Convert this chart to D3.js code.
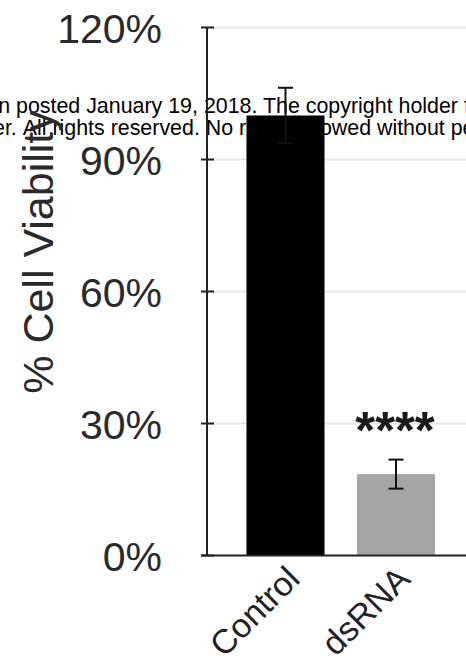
<!DOCTYPE html>
<html>
<head>
<meta charset="utf-8">
<script src="https://cdn.jsdelivr.net/npm/d3@7"></script>
<style>
  html, body { margin: 0; padding: 0; background: #fff; }
  svg { display: block; }
  text { font-family: "Liberation Sans", Arial, Helvetica, sans-serif; }
</style>
</head>
<body>
<svg id="chart" width="466" height="665"></svg>
<script>
// Cell viability after treatment
const categories = ["Control", "dsRNA"];
const viability = [1.00, 0.185];      // mean fraction viable
const viabilityErr = [0.063, 0.033];  // error bar half-length
const barColors = ["#000000", "#a6a6a6"];
const yTicks = [0, 0.3, 0.6, 0.9, 1.2];
const significance = ["", "****"];
const yTitle = "% Cell Viability";

const svg = d3.select("#chart");
const W = 466, H = 665;

// Preprint notice running behind the plot
const notice = svg.append("g").attr("class", "notice").attr("font-size", 21.4).attr("fill", "#000");
const noticeLines = [
  { pre: "this version", post: "posted January 19, 2018. The copyright holder for this preprint", x: 16, y: 113 },
  { pre: "is the author/funder.", post: "All rights reserved. No reuse allowed without permission.", x: 22.7, y: 134.5 }
];
noticeLines.forEach(l => {
  notice.append("text").attr("x", l.x - 5.9).attr("y", l.y).attr("text-anchor", "end").text(l.pre);
  notice.append("text").attr("x", l.x).attr("y", l.y).text(l.post);
});

const axisX = 207;
const y = d3.scaleLinear().domain([0, 1.2]).range([555.5, 27.5]);
const x = d3.scaleBand().domain(categories).range([230.25, 451.25])
  .paddingInner(0.294).paddingOuter(0.147);

// gridlines
svg.append("g").selectAll("line").data(yTicks.filter(d => d > 0)).join("line")
  .attr("x1", axisX).attr("x2", W)
  .attr("y1", d => y(d)).attr("y2", d => y(d))
  .attr("stroke", "#e6e6e6").attr("stroke-width", 2);

// significance marker
svg.append("g").selectAll("text").data(categories).join("text")
  .attr("x", d => x(d) + x.bandwidth() / 2 - 1)
  .attr("y", (d, i) => y(0.3) + 24)
  .attr("text-anchor", "middle")
  .attr("font-size", 51)
  .attr("font-weight", "bold")
  .attr("fill", "#1a1a1a")
  .text((d, i) => significance[i]);

// bars
svg.append("g").selectAll("rect").data(categories).join("rect")
  .attr("x", d => x(d))
  .attr("width", x.bandwidth())
  .attr("y", (d, i) => y(viability[i]))
  .attr("height", (d, i) => y(0) - y(viability[i]))
  .attr("fill", (d, i) => barColors[i]);

// error bars
const eb = svg.append("g").attr("stroke", "#111").attr("stroke-width", 2).attr("fill", "none");
categories.forEach((c, i) => {
  const cx = x(c) + x.bandwidth() / 2;
  const hi = y(viability[i] + viabilityErr[i]);
  const lo = y(viability[i] - viabilityErr[i]);
  eb.append("line").attr("x1", cx).attr("x2", cx).attr("y1", hi).attr("y2", lo);
  eb.append("line").attr("x1", cx - 7.5).attr("x2", cx + 7.5).attr("y1", hi).attr("y2", hi);
  eb.append("line").attr("x1", cx - 7.5).attr("x2", cx + 7.5).attr("y1", lo).attr("y2", lo);
});

// y axis with ticks crossing the line
const yAxis = d3.axisLeft(y).tickValues(yTicks).tickSize(0).tickFormat(d3.format(".0%"));
const gy = svg.append("g").attr("transform", `translate(${axisX},0)`).call(yAxis);
gy.select(".domain").remove();
gy.selectAll("text").attr("x", -45).attr("dy", "0.36em")
  .attr("font-size", 41).attr("font-family", "'Liberation Sans', Arial, sans-serif").attr("fill", "#2a2a2a");
svg.append("line").attr("x1", axisX).attr("x2", axisX).attr("y1", y(1.2)).attr("y2", y(0))
  .attr("stroke", "#222").attr("stroke-width", 2);
svg.append("g").selectAll("line").data(yTicks).join("line")
  .attr("x1", axisX - 6).attr("x2", axisX + 7)
  .attr("y1", d => y(d)).attr("y2", d => y(d))
  .attr("stroke", "#222").attr("stroke-width", 2);

// x axis baseline
svg.append("line").attr("x1", axisX - 6).attr("x2", W).attr("y1", y(0)).attr("y2", y(0))
  .attr("stroke", "#222").attr("stroke-width", 2);

// category labels, rotated
svg.append("g").selectAll("text").data(categories).join("text")
  .attr("transform", d => `translate(${x(d) + x.bandwidth() / 2 + 16},581) rotate(-45)`)
  .attr("text-anchor", "end")
  .attr("font-size", 34)
  .attr("fill", "#222")
  .text(d => d);

// y title
svg.append("text")
  .attr("transform", "translate(52.5,252) rotate(-90)")
  .attr("text-anchor", "middle")
  .attr("font-size", 43)
  .attr("fill", "#2a2a2a")
  .text(yTitle);
</script>
</body>
</html>
